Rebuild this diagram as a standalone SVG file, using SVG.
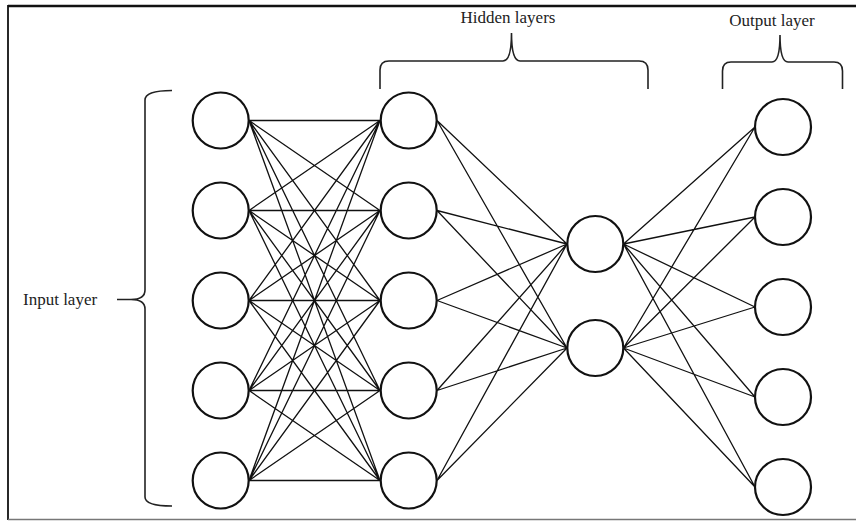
<svg xmlns="http://www.w3.org/2000/svg" width="856" height="521" viewBox="0 0 856 521">
<style>
.node{fill:#fff;stroke:#111;stroke-width:2.2}
.edge{stroke:#111;stroke-width:1.3;fill:none}
.brace{stroke:#222;stroke-width:1.6;fill:none}
.lbl{font-family:"Liberation Serif","Times New Roman",serif;font-size:17px;fill:#222}
</style>
<rect x="0" y="0" width="856" height="521" fill="#fff"/>
<g id="frame">
<line x1="8" y1="6" x2="856" y2="6" stroke="#111" stroke-width="2.4"/>
<line x1="8" y1="5" x2="8" y2="520" stroke="#111" stroke-width="1.8"/>
<line x1="8" y1="519.5" x2="856" y2="519.5" stroke="#777" stroke-width="1.6"/>
</g>
<g id="connectors">
<!-- layer1 -> layer2 -->
<path class="edge" d="M249,120.5L380,120.5M249,120.5L380,210.5M249,120.5L380,300.5M249,120.5L380,390.5M249,120.5L380,480.5
M249,210.5L380,120.5M249,210.5L380,210.5M249,210.5L380,300.5M249,210.5L380,390.5M249,210.5L380,480.5
M249,300.5L380,120.5M249,300.5L380,210.5M249,300.5L380,300.5M249,300.5L380,390.5M249,300.5L380,480.5
M249,390.5L380,120.5M249,390.5L380,210.5M249,390.5L380,300.5M249,390.5L380,390.5M249,390.5L380,480.5
M249,480.5L380,120.5M249,480.5L380,210.5M249,480.5L380,300.5M249,480.5L380,390.5M249,480.5L380,480.5"/>
<!-- layer2 -> layer3 -->
<path class="edge" d="M437,120.5L567,244M437,120.5L567,348
M437,210.5L567,244M437,210.5L567,348
M437,300.5L567,244M437,300.5L567,348
M437,390.5L567,244M437,390.5L567,348
M437,480.5L567,244M437,480.5L567,348"/>
<!-- layer3 -> output -->
<path class="edge" d="M623.5,244L755,127M623.5,244L755,217M623.5,244L755,307M623.5,244L755,397M623.5,244L755,487
M623.5,348L755,127M623.5,348L755,217M623.5,348L755,307M623.5,348L755,397M623.5,348L755,487"/>
</g>
<g id="input-layer">
<circle class="node" cx="220.7" cy="120.5" r="28"/>
<circle class="node" cx="220.7" cy="210.5" r="28"/>
<circle class="node" cx="220.7" cy="300.5" r="28"/>
<circle class="node" cx="220.7" cy="390.5" r="28"/>
<circle class="node" cx="220.7" cy="480.5" r="28"/>
</g>
<g id="hidden-layer-1">
<circle class="node" cx="408.7" cy="120.5" r="28"/>
<circle class="node" cx="408.7" cy="210.5" r="28"/>
<circle class="node" cx="408.7" cy="300.5" r="28"/>
<circle class="node" cx="408.7" cy="390.5" r="28"/>
<circle class="node" cx="408.7" cy="480.5" r="28"/>
</g>
<g id="hidden-layer-2">
<circle class="node" cx="595.3" cy="244" r="28"/>
<circle class="node" cx="595.3" cy="348" r="28"/>
</g>
<g id="output-layer">
<circle class="node" cx="783" cy="127" r="28"/>
<circle class="node" cx="783" cy="217" r="28"/>
<circle class="node" cx="783" cy="307" r="28"/>
<circle class="node" cx="783" cy="397" r="28"/>
<circle class="node" cx="783" cy="487" r="28"/>
</g>
<g id="input-label">
<path class="brace" d="M172,90.5Q145,90.5 145,100L145,290Q145,299.5 131,299.5L117,299.5M131,299.5Q145,299.5 145,309L145,497Q145,506 172,506"/>
<text class="lbl" x="23" y="304.5">Input layer</text>
</g>
<g id="hidden-label">
<path class="brace" d="M380,89L380,70Q380,61 389,61L503,61Q511.5,61 511.5,33Q511.5,61 520,61L639,61Q648,61 648,70L648,89"/>
<text class="lbl" x="508" y="22.7" text-anchor="middle">Hidden layers</text>
</g>
<g id="output-label">
<path class="brace" d="M722.5,89L722.5,71Q722.5,62 731,62L772,62Q780,62 780,35Q780,62 788,62L834,62Q842.5,62 842.5,71L842.5,89"/>
<text class="lbl" x="772" y="26" text-anchor="middle">Output layer</text>
</g>
</svg>
